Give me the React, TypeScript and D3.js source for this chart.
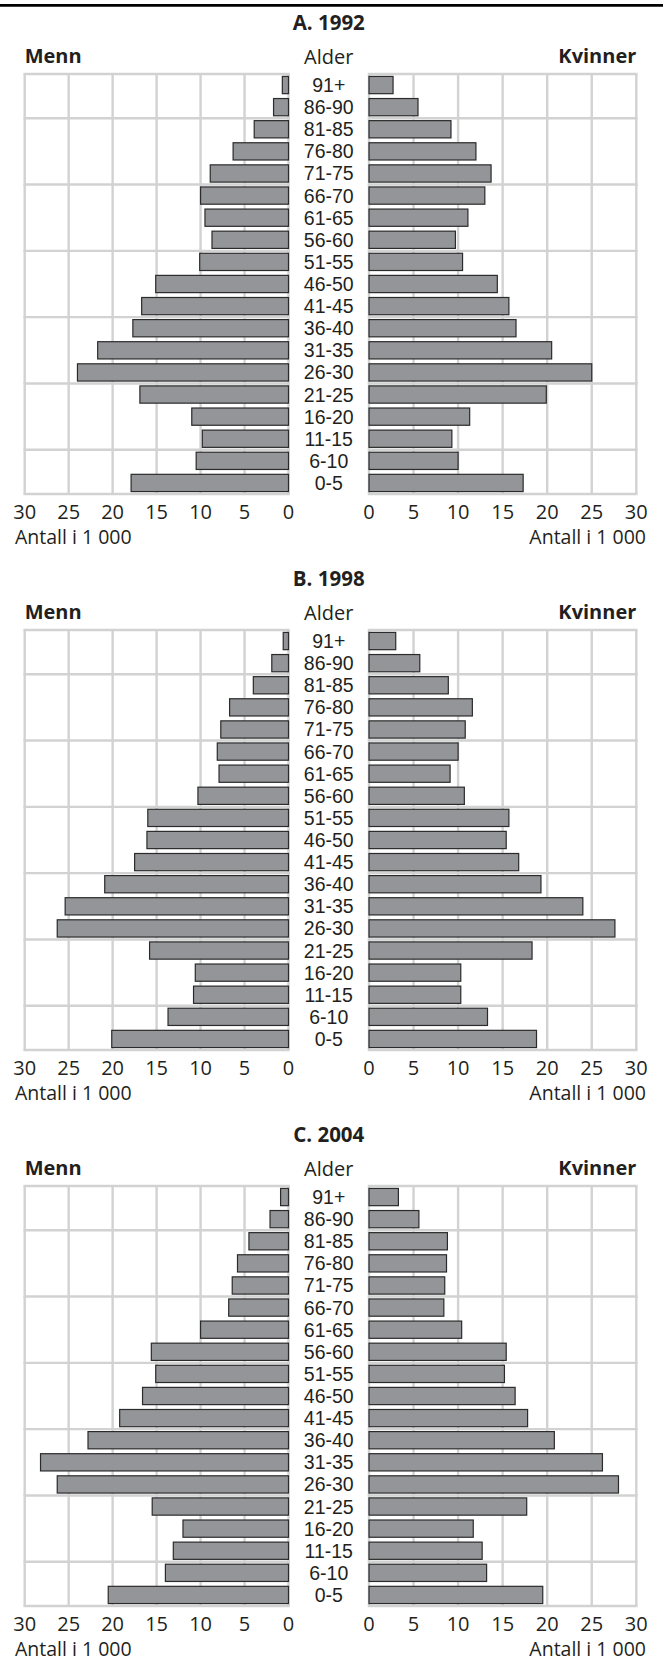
import React, { useEffect, useRef } from "react";
import * as d3 from "d3";

// age groups, top to bottom
const ageGroups = [
  "91+", "86-90", "81-85", "76-80", "71-75", "66-70", "61-65", "56-60", "51-55",
  "46-50", "41-45", "36-40", "31-35", "26-30", "21-25", "16-20", "11-15", "6-10", "0-5",
];

// population in 1 000, same order as ageGroups
const men1992 = [0.7, 1.7, 3.9, 6.3, 8.9, 10.0, 9.5, 8.7, 10.1, 15.1, 16.7, 17.7, 21.7, 24.0, 16.9, 11.0, 9.8, 10.5, 17.9];
const women1992 = [2.7, 5.5, 9.2, 12.0, 13.7, 13.0, 11.1, 9.7, 10.5, 14.4, 15.7, 16.5, 20.5, 25.0, 19.9, 11.3, 9.3, 10.0, 17.3];
const men1998 = [0.6, 1.9, 4.0, 6.7, 7.7, 8.1, 7.9, 10.3, 16.0, 16.1, 17.5, 20.9, 25.4, 26.3, 15.8, 10.6, 10.8, 13.7, 20.1];
const women1998 = [3.0, 5.7, 8.9, 11.6, 10.8, 10.0, 9.1, 10.7, 15.7, 15.4, 16.8, 19.3, 24.0, 27.6, 18.3, 10.3, 10.3, 13.3, 18.8];
const men2004 = [0.9, 2.1, 4.5, 5.8, 6.4, 6.8, 10.0, 15.6, 15.1, 16.6, 19.2, 22.8, 28.2, 26.3, 15.5, 12.0, 13.1, 14.0, 20.5];
const women2004 = [3.3, 5.6, 8.8, 8.7, 8.5, 8.4, 10.4, 15.4, 15.2, 16.4, 17.8, 20.8, 26.2, 28.0, 17.7, 11.7, 12.7, 13.2, 19.5];

const panelTitles = ["A. 1992", "B. 1998", "C. 2004"];
const xTicks = [0, 5, 10, 15, 20, 25, 30];

const App = () => {
  const svgRef = useRef(null);
  const width = 663;
  const height = 1662;

  useEffect(() => {
    const svg = d3.select(svgRef.current);
    svg.selectAll("*").remove();

    const panels = [
      { title: panelTitles[0], men: men1992, women: women1992 },
      { title: panelTitles[1], men: men1998, women: women1998 },
      { title: panelTitles[2], men: men2004, women: women2004 },
    ];

    const font = "'Open Sans', 'DejaVu Sans', sans-serif";
    // tighter line box so the age labels fit their rows
    const ageFont = "'Liberation Sans', Arial, sans-serif";
    const textColor = "#231f20";
    const gridColor = "#d2d2d2";
    const plotHeight = 420;
    const firstTop = 74;
    const panelStep = 556;

    const xLeft = d3.scaleLinear().domain([0, 30]).range([288.5, 24.7]);
    const xRight = d3.scaleLinear().domain([0, 30]).range([369, 636.3]);
    const y = d3
      .scaleBand()
      .domain(ageGroups)
      .range([0, plotHeight])
      .paddingInner(0.22)
      .paddingOuter(0.11);
    const rows = d3.scaleLinear().domain([0, ageGroups.length]).range([0, plotHeight]);
    // horizontal grid every third row, plus the frame
    const rowLines = [0, ...d3.range(2, ageGroups.length, 3), ageGroups.length];
    const mid = (xLeft(0) + xRight(0)) / 2;

    // rule at the top
    svg
      .append("line")
      .attr("x1", 0)
      .attr("x2", width)
      .attr("y1", 5.3)
      .attr("y2", 5.3)
      .attr("stroke", "#000")
      .attr("stroke-width", 2.7);

    panels.forEach((p, i) => {
      const g = svg.append("g").attr("transform", `translate(0,${firstTop + i * panelStep})`);

      g.append("text")
        .attr("x", mid)
        .attr("y", -44)
        .attr("text-anchor", "middle")
        .style("font-family", font)
        .style("font-size", "20.5px")
        .style("font-weight", 700)
        .style("fill", textColor)
        .text(p.title);

      g.append("text")
        .attr("x", xLeft(30))
        .attr("y", -11)
        .style("font-family", font)
        .style("font-size", "20px")
        .style("font-weight", 700)
        .style("fill", textColor)
        .text("Menn");

      g.append("text")
        .attr("x", xRight(30))
        .attr("y", -11)
        .attr("text-anchor", "end")
        .style("font-family", font)
        .style("font-size", "20px")
        .style("font-weight", 700)
        .style("fill", textColor)
        .text("Kvinner");

      g.append("text")
        .attr("x", mid)
        .attr("y", -10.5)
        .attr("text-anchor", "middle")
        .style("font-family", font)
        .style("font-size", "20px")
        .style("fill", textColor)
        .text("Alder");

      const sides = [
        { x: xLeft, values: p.men, anchor: "start", labelX: 15 },
        { x: xRight, values: p.women, anchor: "end", labelX: 646 },
      ];

      sides.forEach((s) => {
        const grid = g.append("g");
        grid
          .selectAll("line.v")
          .data(xTicks)
          .enter()
          .append("line")
          .attr("x1", (d) => s.x(d))
          .attr("x2", (d) => s.x(d))
          .attr("y1", 0)
          .attr("y2", plotHeight)
          .attr("stroke", gridColor)
          .attr("stroke-width", 2.4);

        grid
          .selectAll("line.h")
          .data(rowLines)
          .enter()
          .append("line")
          .attr("x1", d3.min(s.x.range()) - 1.2)
          .attr("x2", d3.max(s.x.range()) + 1.2)
          .attr("y1", (d) => rows(d))
          .attr("y2", (d) => rows(d))
          .attr("stroke", gridColor)
          .attr("stroke-width", 2.4);

        g.selectAll(null)
          .data(s.values)
          .enter()
          .append("rect")
          .attr("x", (d) => Math.min(s.x(0), s.x(d)))
          .attr("y", (d, j) => y(ageGroups[j]))
          .attr("width", (d) => Math.abs(s.x(d) - s.x(0)))
          .attr("height", y.bandwidth())
          .attr("fill", "#939598")
          .attr("stroke", "#2b2b2b")
          .attr("stroke-width", 1.2);

        g.selectAll(null)
          .data(xTicks)
          .enter()
          .append("text")
          .attr("x", (d) => s.x(d))
          .attr("y", plotHeight + 25)
          .attr("text-anchor", "middle")
          .style("font-family", font)
          .style("font-size", "20px")
          .style("fill", textColor)
          .text((d) => d);

        g.append("text")
          .attr("x", s.labelX)
          .attr("y", plotHeight + 50)
          .attr("text-anchor", s.anchor)
          .style("font-family", font)
          .style("font-size", "19.5px")
          .style("fill", textColor)
          .text("Antall i 1 000");
      });

      g.selectAll(null)
        .data(ageGroups)
        .enter()
        .append("text")
        .attr("x", mid)
        .attr("y", (d) => y(d) + y.bandwidth() / 2)
        .attr("dy", "0.36em")
        .attr("text-anchor", "middle")
        .style("font-family", ageFont)
        .style("font-size", "19.5px")
        .style("fill", textColor)
        .text((d) => d);
    });
  }, []);

  return (
    <svg
      ref={svgRef}
      width={width}
      height={height}
      style={{ position: "absolute", left: 0, top: 0, background: "#fff" }}
    ></svg>
  );
};

export default App;
